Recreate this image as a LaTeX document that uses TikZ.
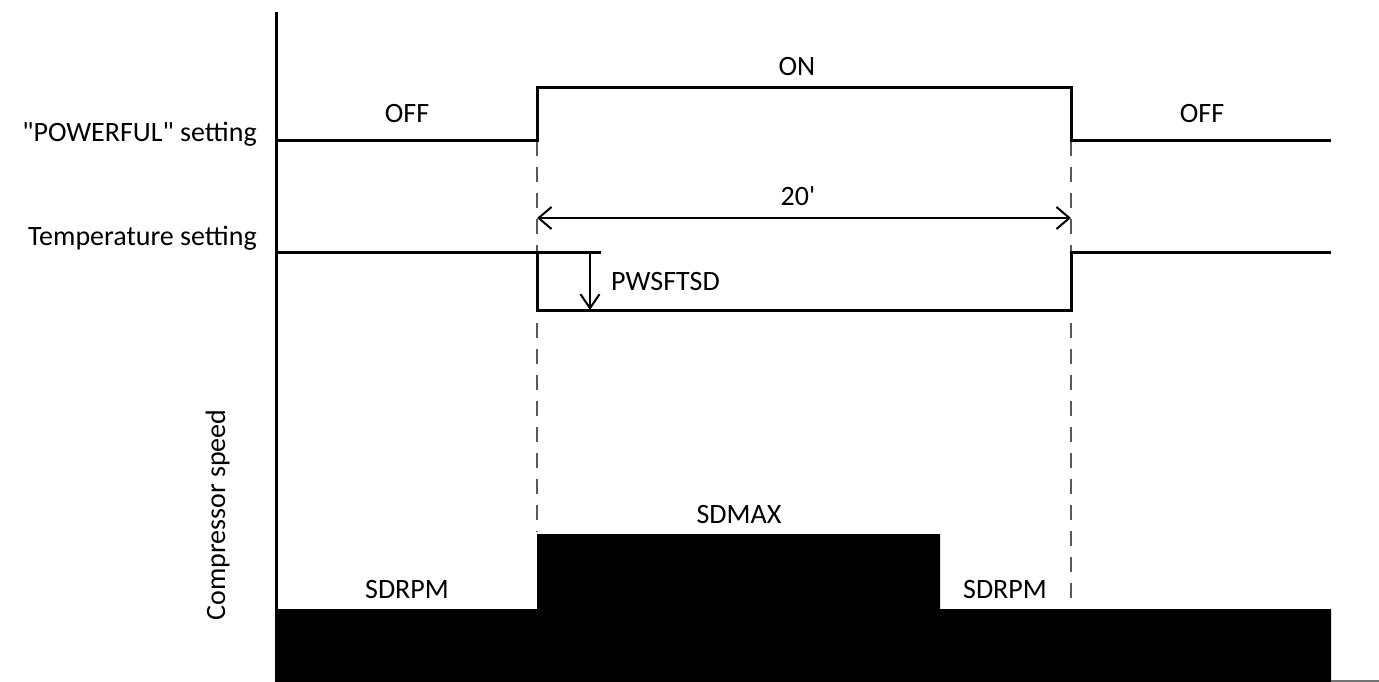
\documentclass[tikz,border=0pt]{standalone}
\usepackage{fontspec}
\setmainfont{Carlito}[Ligatures=TeXOff]
\usetikzlibrary{arrows.meta}
\begin{document}
\begin{tikzpicture}[x=1pt,y=-1pt,
  lbl/.style={font=\fontsize{28}{32}\selectfont, inner sep=0pt},
  wave/.style={line width=3pt, line cap=butt, line join=miter},
  thinarrow/.style={line width=2pt, {Straight Barb[length=13pt,width=22pt,line width=2pt]}-{Straight Barb[length=13pt,width=22pt,line width=2pt]}},
  downarrow/.style={line width=2pt, -{Straight Barb[length=14pt,width=19pt,line width=2pt]}},
  guide/.style={line width=1.6pt, draw=black!65, dash pattern=on 15pt off 11pt},
  speedfill/.style={fill=black, draw=none}]
\useasboundingbox (0,0) rectangle (1379,682);
% key coordinates
\coordinate (axtop) at (276,12);
\coordinate (axbot) at (276,682);
\coordinate (p0) at (276,141);
\coordinate (p1) at (537,141);
\coordinate (p2) at (537,88);
\coordinate (p3) at (1071,88);
\coordinate (p4) at (1071,141);
\coordinate (p5) at (1331,141);
\coordinate (t0) at (276,252);
\coordinate (t1) at (601,252);
\coordinate (t2) at (537,252);
\coordinate (t3) at (537,310);
\coordinate (t4) at (1071,310);
\coordinate (t5) at (1071,252);
\coordinate (t6) at (1331,252);
\coordinate (d0) at (590,252);
\coordinate (d1) at (590,310);
\coordinate (a0) at (537,218);
\coordinate (a1) at (1071,218);
\coordinate (g1top) at (537,141);
\coordinate (g1bot) at (537,532);
\coordinate (g2top) at (1071,141);
\coordinate (g2bot) at (1071,601);
\coordinate (hx0) at (1331,681);
\coordinate (hx1) at (1379,681);
% compressor speed fill
\path[speedfill] (275,682) -- (275,609) -- (537,609) -- (537,534) -- (940,534) -- (940,609) -- (1331,609) -- (1331,682) -- cycle;
% guides
\draw[guide] (g1top) -- (g1bot);
\draw[guide] (g2top) -- (g2bot);
% axis
\draw[line width=3pt] (axtop) -- (axbot);
\draw[line width=1.2pt, draw=black!55] (hx0) -- (hx1);
% POWERFUL waveform
\draw[wave] (p0) -- (p1) -- (p2) -- (p3) -- (p4) -- (p5);
% Temperature waveform
\draw[wave] (t0) -- (t1);
\draw[wave] (t2) -- (t3) -- (t4) -- (t5) -- (t6);
% arrows
\draw[thinarrow] (a0) -- (a1);
\draw[downarrow] (d0) -- (d1);
% labels
\node[lbl, anchor=base east] (lpow) at (257,142) {"POWERFUL" setting};
\node[lbl, anchor=base east] (ltemp) at (257,245) {Temperature setting};
\node[lbl, anchor=base, rotate=90] (lcomp) at (225,515) {Compressor speed};
\node[lbl, anchor=base] (off1) at (407,123) {OFF};
\node[lbl, anchor=base] (on) at (797,76) {ON};
\node[lbl, anchor=base] (off2) at (1202,123) {OFF};
\node[lbl, anchor=base] (t20) at (798,205) {20'};
\node[lbl, anchor=base west] (pws) at (611,290) {PWSFTSD};
\node[lbl, anchor=base] (sdmax) at (739,523) {SDMAX};
\node[lbl, anchor=base] (sdr1) at (407,598) {SDRPM};
\node[lbl, anchor=base] (sdr2) at (1005,598) {SDRPM};
\end{tikzpicture}
\end{document}
